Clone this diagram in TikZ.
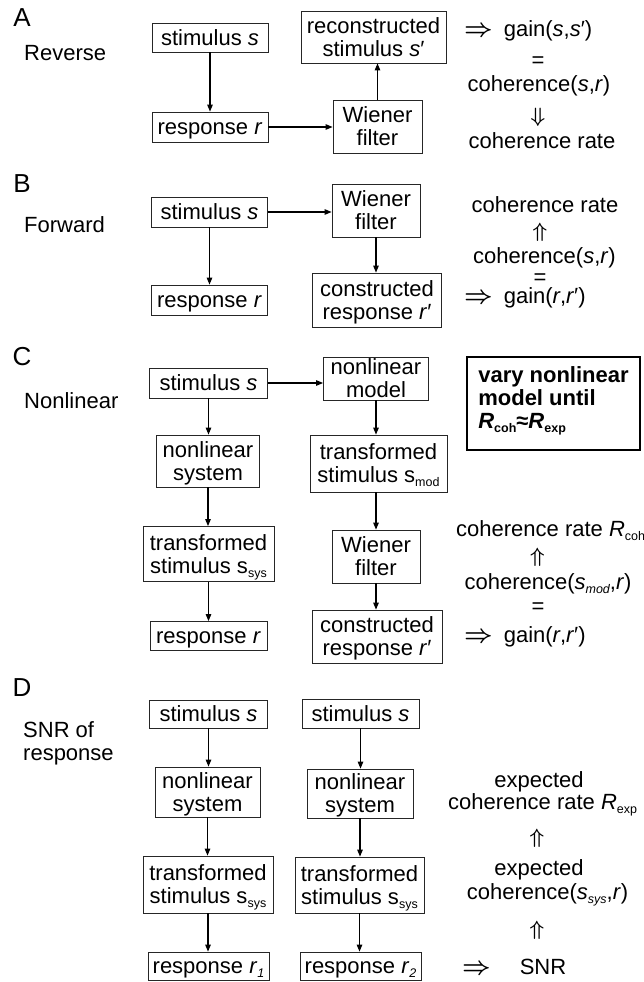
\documentclass[tikz,border=0pt]{standalone}
\usepackage{fontspec}
\setmainfont{Liberation Sans}
\usetikzlibrary{arrows.meta}
\newcommand\fs{\fontsize{22}{23}\selectfont}
\newcommand\ms{\vrule width0pt height15.5pt depth0pt\relax}
\newcommand\sub[1]{\raisebox{-4pt}[0pt][0pt]{\fontsize{12.5}{13}\selectfont #1}}
\newcommand\upar{{\fontsize{21}{21}\selectfont\boldmath$\Uparrow$}}
\newcommand\dnar{{\fontsize{21}{21}\selectfont\boldmath$\Downarrow$}}
\newcommand\imp{{\fontsize{23}{23}\selectfont\boldmath$\Rightarrow$}}
\begin{document}
\begin{tikzpicture}[x=1pt,y=-1pt,
  box/.style={draw=black!85, line width=0.8pt, inner sep=0pt, align=center, font=\fs, execute at begin node=\ms},
  arr/.style={-{Triangle[length=7pt,width=5.5pt]}, line width=1.1pt},
  txt/.style={inner sep=0pt, anchor=base, font=\fs},
  txtw/.style={inner sep=0pt, anchor=base west, font=\fs},
  lbl/.style={inner sep=0pt, anchor=base west, font=\fs},
  sym/.style={inner sep=0pt, font=\fs},
  panel/.style={inner sep=0pt, font=\fontsize{26}{30}\selectfont}]
\fill[white] (0,0) rectangle (643,982);
\useasboundingbox (0,0) rectangle (643,982);

% ---------------- A
\node[panel] (A) at (22,17.5) {A};
\node[lbl] (Arev) at (24,60) {Reverse};
\node[box, minimum width=116pt, minimum height=29pt] (as) at (210,37.5) {stimulus \textit{s}};
\node[box, minimum width=116pt, minimum height=30pt] (ar) at (210,127) {res\smash{p}onse \textit{r}};
\node[box, minimum width=145pt, minimum height=52pt] (arec) at (373.5,37) {reconstructed\\stimulus \textit{s}′};
\node[box, minimum width=89pt, minimum height=53pt] (aw) at (377.5,126.5) {Wiener\\filter};
\draw[arr] (as.south) -- (as.south |- ar.north);
\draw[arr] (ar.east) -- (ar.east -| aw.west);
\draw[arr] (aw.north) -- (aw.north |- arec.south);
\node[txtw] (ag) at (464,37) {\imp\hspace{11pt}gain(\textit{s},\textit{s}′)};
\node[sym] (aeq) at (538,62) {=};
\node[txt] (acoh) at (539,92) {coherence(\textit{s},\textit{r})};
\node[sym] (adn) at (538,117) {\dnar};
\node[txt] (arate) at (542,148) {coherence rate};

% ---------------- B
\node[panel] (B) at (22,183.5) {B};
\node[lbl] (Bfw) at (24,232) {Forward};
\node[box, minimum width=116pt, minimum height=30pt] (bs) at (209.5,212) {stimulus \textit{s}};
\node[box, minimum width=116pt, minimum height=30pt] (br) at (209.5,300) {res\smash{p}onse \textit{r}};
\node[box, minimum width=88pt, minimum height=53pt] (bw) at (376,210.5) {Wiener\\filter};
\node[box, minimum width=129pt, minimum height=54pt] (bc) at (377,300) {constructed\\res\smash{p}onse \textit{r}′};
\draw[arr] (bs.south) -- (bs.south |- br.north);
\draw[arr] (bs.east) -- (bs.east -| bw.west);
\draw[arr] (bw.south) -- (bw.south |- bc.north);
\node[txt] (brate) at (545,212) {coherence rate};
\node[sym] (bup) at (540,232) {\upar};
\node[txt] (bcoh) at (544.5,263) {coherence(\textit{s},\textit{r})};
\node[sym] (beq) at (540,279) {=};
\node[txtw] (bg) at (464,303) {\imp\hspace{11pt}gain(\textit{r},\textit{r}′)};

% ---------------- C
\node[panel] (C) at (22,356.5) {C};
\node[lbl] (Cnl) at (24,408) {Nonlinear};
\node[box, minimum width=118pt, minimum height=30pt] (cs) at (208.5,383) {stimulus \textit{s}};
\node[box, minimum width=103pt, minimum height=52pt] (cns) at (208,461) {nonlinear\\s\smash{y}stem};
\node[box, minimum width=131pt, minimum height=55pt] (cts) at (208.5,554) {transformed\\stimulus s\sub{sys}};
\node[box, minimum width=117pt, minimum height=29pt] (cr) at (208.5,636) {res\smash{p}onse \textit{r}};
\node[box, minimum width=105pt, minimum height=43pt] (cnm) at (376,378.5) {nonlinear\\model};
\node[box, minimum width=137pt, minimum height=57pt] (ctm) at (378.5,463.5) {transformed\\stimulus s\sub{mod}};
\node[box, minimum width=88pt, minimum height=53pt] (cw) at (376,556.5) {Wiener\\filter};
\node[box, minimum width=130pt, minimum height=53pt] (cc) at (377,636.5) {constructed\\res\smash{p}onse \textit{r}′};
\draw[arr] (cs.south) -- (cs.south |- cns.north);
\draw[arr] (cns.south) -- (cns.south |- cts.north);
\draw[arr] (cts.south) -- (cts.south |- cr.north);
\draw[arr] (cs.east) -- (cs.east -| cnm.west);
\draw[arr] (cnm.south) -- (cnm.south |- ctm.north);
\draw[arr] (ctm.south -| cw.north) -- (cw.north);
\draw[arr] (cw.south) -- (cw.south |- cc.north);
\node[draw, line width=2.5pt, inner sep=0pt, minimum width=173pt, minimum height=93pt, align=left,
      font=\bfseries\fontsize{22}{23}\selectfont] (vary) at (553.5,403.5)
      {vary nonlinear\\model until\\\textit{R}\sub{coh}≈\textit{R}\sub{exp}\rule[-11pt]{0pt}{11pt}};
\node[txtw] (crate) at (456,536) {coherence rate \textit{R}\sub{coh}};
\node[sym] (cup) at (537.5,557) {\upar};
\node[txt] (ccoh) at (548,589) {coherence(\textit{s}\sub{\itshape mod},\textit{r})};
\node[sym] (ceq) at (538,608) {=};
\node[txtw] (cg) at (464,642) {\imp\hspace{11pt}gain(\textit{r},\textit{r}′)};

% ---------------- D
\node[panel] (D) at (22,688) {D};
\node[inner sep=0pt, anchor=north west, font=\fs, align=left] (Dsnr) at (23,721) {SNR of\\response};
\node[box, minimum width=118pt, minimum height=28pt] (d1s) at (208.5,714) {stimulus \textit{s}};
\node[box, minimum width=105pt, minimum height=50pt] (d1ns) at (207.5,792) {nonlinear\\s\smash{y}stem};
\node[box, minimum width=130pt, minimum height=57pt] (d1ts) at (208,884.5) {transformed\\stimulus s\sub{sys}};
\node[box, minimum width=121pt, minimum height=28pt] (d1r) at (208.5,966) {res\smash{p}onse \textit{r}\sub{\itshape 1}};
\node[box, minimum width=117pt, minimum height=29pt] (d2s) at (360.5,713.5) {stimulus \textit{s}};
\node[box, minimum width=106pt, minimum height=49pt] (d2ns) at (360,793.5) {nonlinear\\s\smash{y}stem};
\node[box, minimum width=129pt, minimum height=56pt] (d2ts) at (359.5,885) {transformed\\stimulus s\sub{sys}};
\node[box, minimum width=121pt, minimum height=28pt] (d2r) at (360.5,966) {res\smash{p}onse \textit{r}\sub{\itshape 2}};
\draw[arr] (d1s.south) -- (d1s.south |- d1ns.north);
\draw[arr] (d1ns.south) -- (d1ns.south |- d1ts.north);
\draw[arr] (d1ts.south) -- (d1ts.south |- d1r.north);
\draw[arr] (d2s.south) -- (d2s.south |- d2ns.north);
\draw[arr] (d2ns.south) -- (d2ns.south |- d2ts.north);
\draw[arr] (d2ts.south) -- (d2ts.south |- d2r.north);
\node[txt] (dexp1) at (539,787) {expected};
\node[txtw] (drate) at (448,809) {coherence rate \textit{R}\sub{exp}};
\node[sym] (dup1) at (537,838) {\upar};
\node[txt] (dexp2) at (539,875) {expected};
\node[txt] (dcoh) at (547.5,899) {coherence(\textit{s}\sub{\itshape sys},\textit{r})};
\node[sym] (dup2) at (537,930) {\upar};
\node[txtw] (dg) at (462,974) {\imp\hspace{29pt}SNR};
\end{tikzpicture}
\end{document}
